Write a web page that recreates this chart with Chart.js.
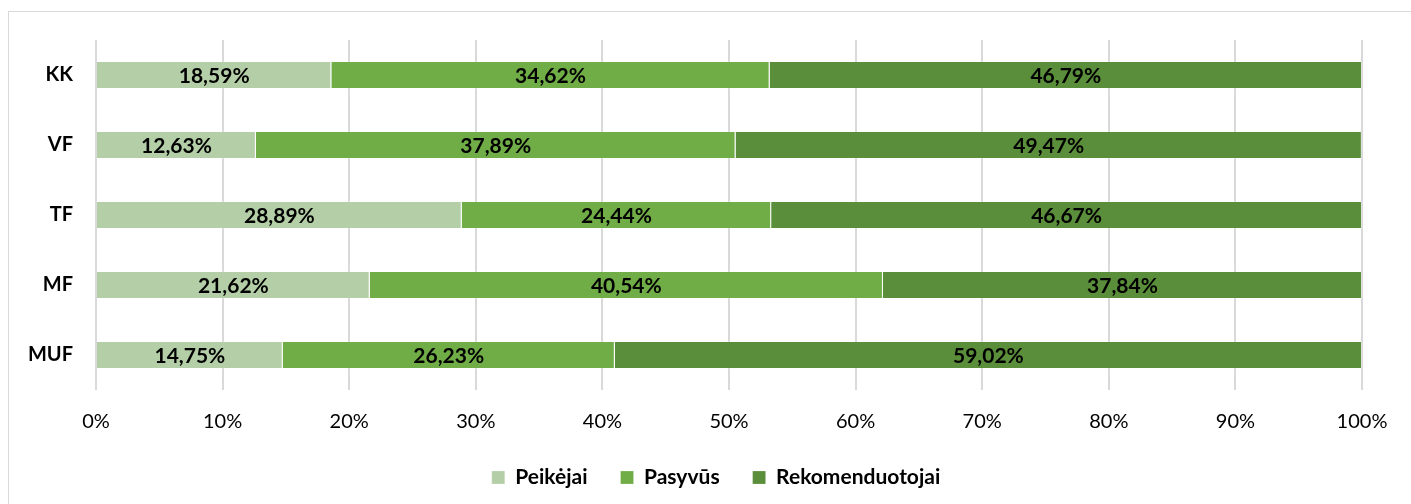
<!DOCTYPE html>
<html>
<head>
<meta charset="utf-8">
<script src="https://cdn.jsdelivr.net/npm/chart.js@4"></script>
<style>
  html, body { margin: 0; padding: 0; background: #fff; }
  #frame { position: absolute; left: 8px; top: 11px; width: 1420px; height: 520px;
           border-top: 1px solid #d9d9d9; border-left: 1px solid #d9d9d9; }
  #wrap { position: absolute; left: 0; top: 0; width: 1411px; height: 504px; }
</style>
</head>
<body>
<div id="frame"></div>
<div id="wrap"><canvas id="chart" width="1411" height="504"></canvas></div>
<script>
// Kategorijos ir reikšmės (%)
const categories = ['KK', 'VF', 'TF', 'MF', 'MUF'];
const peikejai = [18.59, 12.63, 28.89, 21.62, 14.75];
const pasyvus = [34.62, 37.89, 24.44, 40.54, 26.23];
const rekomenduotojai = [46.79, 49.47, 46.67, 37.84, 59.02];
const seriesNames = ['Peikėjai', 'Pasyvūs', 'Rekomenduotojai'];
const tickValues = [0, 10, 20, 30, 40, 50, 60, 70, 80, 90, 100];

const FONT = 'Lato, "Open Sans", sans-serif';

// Reikšmių etiketės bare viduryje
const barLabels = {
  id: 'barLabels',
  afterDatasetsDraw(chart) {
    const ctx = chart.ctx;
    ctx.save();
    ctx.font = 'bold 21px ' + FONT;
    ctx.fillStyle = '#000';
    ctx.textAlign = 'center';
    ctx.textBaseline = 'middle';
    chart.data.datasets.forEach((ds, i) => {
      chart.getDatasetMeta(i).data.forEach((bar, j) => {
        const cx = (bar.x + bar.base) / 2;
        ctx.fillText(ds.data[j].toFixed(2).replace('.', ',') + '%', cx, bar.y + 1);
      });
    });
    ctx.restore();
  }
};

// Legenda centruojama kaip originale (šiek tiek dešiniau)
const legendShift = {
  id: 'legendShift',
  afterLayout(chart) {
    if (chart.legend) {
      chart.legend.left += 35;
      chart.legend.right += 35;
    }
  }
};

const ctx = document.getElementById('chart').getContext('2d');
new Chart(ctx, {
  type: 'bar',
  data: {
    labels: categories,
    datasets: [
      { label: seriesNames[0], data: peikejai, backgroundColor: '#b4cfa7' },
      { label: seriesNames[1], data: pasyvus, backgroundColor: '#70ad47' },
      { label: seriesNames[2], data: rekomenduotojai, backgroundColor: '#5a8e3b' }
    ].map(d => Object.assign(d, {
      barPercentage: 0.4,
      categoryPercentage: 1,
      borderWidth: 1,
      borderColor: 'rgba(255,255,255,0.2)'
    }))
  },
  plugins: [barLabels, legendShift],
  options: {
    indexAxis: 'y',
    responsive: false,
    animation: false,
    layout: { padding: { left: 0, right: 49, top: 40, bottom: 6 } },
    plugins: {
      legend: {
        position: 'bottom',
        labels: {
          font: { family: FONT, size: 21, weight: 'bold' },
          color: '#000',
          boxWidth: 13,
          boxHeight: 13,
          padding: 33
        }
      },
      tooltip: { enabled: false }
    },
    scales: {
      x: {
        stacked: true,
        min: 0,
        max: 100,
        afterBuildTicks(scale) {
          scale.ticks = tickValues.map(v => ({ value: v }));
        },
        afterFit(scale) { scale.height = 44; },
        ticks: {
          font: { family: FONT, size: 20 },
          color: '#000',
          padding: 20,
          maxRotation: 0,
          callback: v => v + '%'
        },
        grid: { color: '#d9d9d9', lineWidth: 2, drawTicks: false },
        border: { display: false }
      },
      y: {
        stacked: true,
        afterFit(scale) { scale.width = 96; },
        ticks: {
          font: { family: FONT, size: 20, weight: 'bold' },
          color: '#000',
          padding: 15
        },
        grid: { display: false },
        border: { display: false }
      }
    }
  }
});
</script>
</body>
</html>
